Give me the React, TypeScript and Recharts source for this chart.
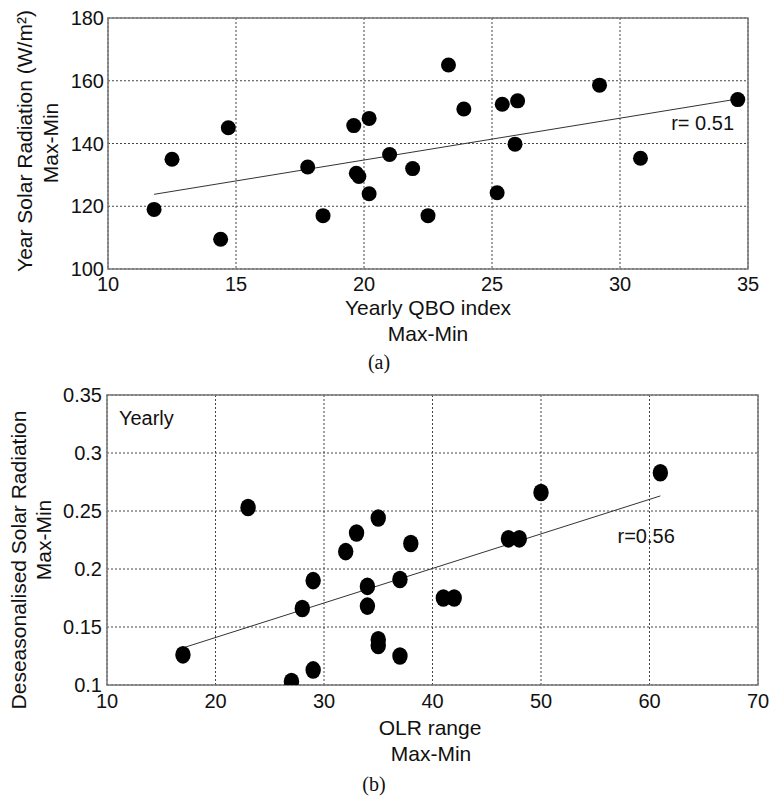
import React from 'react';
import {
  ScatterChart, Scatter, XAxis, YAxis, CartesianGrid, ReferenceLine, ReferenceArea, Label
} from 'recharts';

// (a) yearly QBO index range vs yearly solar radiation range
const qboIndex = [11.8, 12.5, 14.7, 14.4, 17.8, 18.4, 19.6, 20.2, 19.7, 19.8, 20.2, 21.0, 21.9, 22.5, 23.3, 23.9, 25.2, 25.4, 26.0, 25.9, 29.2, 30.8, 34.6];
const solarRange = [119, 135, 145, 109.5, 132.5, 117, 145.7, 148, 130.5, 129.5, 124, 136.5, 132, 117, 165, 151, 124.3, 152.5, 153.6, 139.8, 158.6, 135.3, 154];
const qboFit = [{ x: 11.8, y: 123.8 }, { x: 34.6, y: 154.2 }];
const qboXTicks = [10, 15, 20, 25, 30, 35];
const qboYTicks = [100, 120, 140, 160, 180];
const qboNote = [{ x: 32.0, y: 146.5, text: 'r= 0.51' }];

// (b) OLR range vs deseasonalised solar radiation range
const olrRange = [17, 23, 27, 29, 29, 28, 32, 33, 35, 34, 34, 35, 35, 37, 37, 38, 41, 42, 47, 48, 50, 61];
const deseasRange = [0.126, 0.253, 0.103, 0.113, 0.19, 0.166, 0.215, 0.231, 0.244, 0.185, 0.168, 0.139, 0.134, 0.191, 0.125, 0.222, 0.175, 0.175, 0.226, 0.226, 0.266, 0.283];
const olrFit = [{ x: 17, y: 0.132 }, { x: 61, y: 0.263 }];
const olrXTicks = [10, 20, 30, 40, 50, 60, 70];
const olrYTicks = [0.1, 0.15, 0.2, 0.25, 0.3, 0.35];
const olrNotes = [
  { x: 57.05, y: 0.2287, text: 'r=0.56' },
  { x: 11.1, y: 0.33, text: 'Yearly' },
];

const FONT = '"Liberation Sans", Arial, sans-serif';
const SERIF = '"Liberation Serif", "Times New Roman", serif';
const tickStyle = { fontSize: 20, fill: '#111', fontFamily: FONT };

const qboData = qboIndex.map((x, i) => ({ x, y: solarRange[i] }));
const olrData = olrRange.map((x, i) => ({ x, y: deseasRange[i] }));

const noteShape = (p: any) => (
  <text x={p.cx} y={p.cy} dominantBaseline="central" fontSize={20} fontFamily={FONT} fill="#111">
    {p.payload.text}
  </text>
);

const dotA = (p: any) => <circle cx={p.cx} cy={p.cy} r={7.5} fill="#000" />;
const dotB = (p: any) => <ellipse cx={p.cx} cy={p.cy} rx={7.7} ry={8.8} fill="#000" />;

const txt = { fontSize: 21, fontFamily: FONT, fill: '#111' };

export default function App() {
  return (
    <div style={{ position: 'absolute', left: 0, top: 0, width: 770, height: 796, background: '#fff' }}>
      <div style={{ position: 'absolute', left: 0, top: 0 }}>
        <ScatterChart width={770} height={375} margin={{ top: 18, right: 22, left: 48, bottom: 76 }}>
          <CartesianGrid stroke="#444" strokeDasharray="2 2" />
          <XAxis
            type="number" dataKey="x" domain={[10, 35]} ticks={qboXTicks} allowDataOverflow
            axisLine={false} tickLine={false} tickSize={0} tickMargin={8} height={30} tick={tickStyle}
          >
            <Label content={() => (
              <g>
                <text x={428} y={315} textAnchor="middle" {...txt}>Yearly QBO index</text>
                <text x={428} y={341} textAnchor="middle" {...txt}>Max-Min</text>
                <text x={379} y={369} textAnchor="middle" fontSize={20} fontFamily={SERIF} fill="#111">(a)</text>
              </g>
            )} />
          </XAxis>
          <YAxis
            type="number" dataKey="y" domain={[100, 180]} ticks={qboYTicks} allowDataOverflow
            axisLine={false} tickLine={false} tickSize={0} tickMargin={4} width={60} tick={tickStyle}
          >
            <Label content={() => (
              <g>
                <text transform="translate(32,141) rotate(-90)" textAnchor="middle" {...txt}>Year Solar Radiation (W/m²)</text>
                <text transform="translate(58,143) rotate(-90)" textAnchor="middle" {...txt}>Max-Min</text>
              </g>
            )} />
          </YAxis>
          <ReferenceArea x1={10} x2={35} y1={100} y2={180} fill="none" fillOpacity={0} stroke="#777" strokeWidth={1.5} />
          <ReferenceLine segment={qboFit} stroke="#333" strokeWidth={1} />
          <Scatter data={qboData} shape={dotA} isAnimationActive={false} />
          <Scatter data={qboNote} shape={noteShape} isAnimationActive={false} />
        </ScatterChart>
      </div>
      <div style={{ position: 'absolute', left: 0, top: 375 }}>
        <ScatterChart width={770} height={421} margin={{ top: 20, right: 12, left: 47, bottom: 81 }}>
          <CartesianGrid stroke="#444" strokeDasharray="2 2" />
          <XAxis
            type="number" dataKey="x" domain={[10, 70]} ticks={olrXTicks} allowDataOverflow
            axisLine={false} tickLine={false} tickSize={0} tickMargin={9} height={30} tick={tickStyle}
          >
            <Label content={() => (
              <g>
                <text x={430} y={360} textAnchor="middle" {...txt}>OLR range</text>
                <text x={431} y={386} textAnchor="middle" {...txt}>Max-Min</text>
                <text x={374} y={416} textAnchor="middle" fontSize={20} fontFamily={SERIF} fill="#111">(b)</text>
              </g>
            )} />
          </XAxis>
          <YAxis
            type="number" dataKey="y" domain={[0.1, 0.35]} ticks={olrYTicks} allowDataOverflow
            axisLine={false} tickLine={false} tickSize={0} tickMargin={5} width={60} tick={tickStyle}
          >
            <Label content={() => (
              <g>
                <text transform="translate(26,185) rotate(-90)" textAnchor="middle" {...txt}>Deseasonalised Solar Radiation</text>
                <text transform="translate(51,165) rotate(-90)" textAnchor="middle" {...txt}>Max-Min</text>
              </g>
            )} />
          </YAxis>
          <ReferenceArea x1={10} x2={70} y1={0.1} y2={0.35} fill="none" fillOpacity={0} stroke="#777" strokeWidth={1.5} />
          <ReferenceLine segment={olrFit} stroke="#333" strokeWidth={1} />
          <Scatter data={olrData} shape={dotB} isAnimationActive={false} />
          <Scatter data={olrNotes} shape={noteShape} isAnimationActive={false} />
        </ScatterChart>
      </div>
    </div>
  );
}
